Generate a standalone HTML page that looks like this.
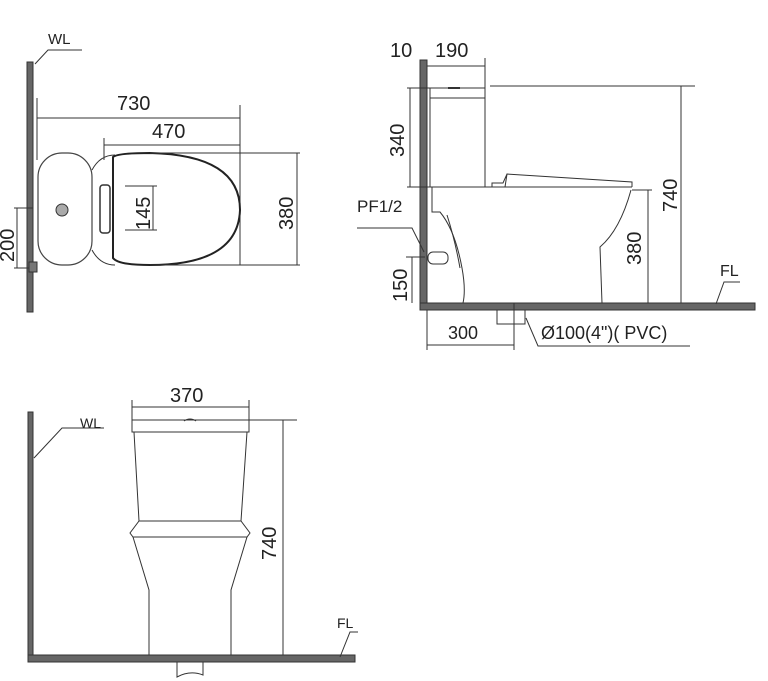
<!DOCTYPE html>
<html><head><meta charset="utf-8"><style>
html,body{margin:0;padding:0;background:#fff;}
svg{display:block;}
text{font-family:"Liberation Sans",sans-serif;fill:#222;}
</style></head><body>
<svg width="768" height="681" viewBox="0 0 768 681" xmlns="http://www.w3.org/2000/svg">
<g stroke="#333" stroke-width="1" fill="none">
<!-- TOP VIEW -->
<rect x="27" y="62" width="6" height="250" fill="#666"/>
<polyline points="35,64 48,50 82,50"/>
<line x1="37" y1="98" x2="37" y2="160"/>
<line x1="37" y1="118" x2="240" y2="118"/>
<line x1="240" y1="105" x2="240" y2="265"/>
<line x1="104" y1="138" x2="104" y2="160"/>
<line x1="104" y1="145" x2="240" y2="145"/>
<rect x="38" y="153" width="54" height="112" rx="24" stroke="#444" stroke-width="1.2"/>
<path d="M92,170 Q100,155 115,155 M92,250 Q100,265 115,265" />
<path d="M113,157 Q118,153 150,153 Q240,155 240,210 Q238,265 150,265 Q118,265 113,258 Z" stroke="#222" stroke-width="2"/>
<rect x="100" y="185" width="10" height="48" rx="3" stroke="#333" stroke-width="1.5"/>
<circle cx="62" cy="210" r="6" fill="#aaa"/>
<line x1="150" y1="153" x2="300" y2="153"/>
<line x1="150" y1="265" x2="300" y2="265"/>
<line x1="297" y1="153" x2="297" y2="265"/>
<line x1="125" y1="186" x2="157" y2="186"/>
<line x1="125" y1="230" x2="157" y2="230"/>
<line x1="153" y1="186" x2="153" y2="230"/>
<line x1="14" y1="208" x2="33" y2="208"/>
<line x1="14" y1="268" x2="33" y2="268"/>
<line x1="17" y1="208" x2="17" y2="268"/>
<rect x="29" y="262" width="8" height="10" fill="#777"/>

<!-- SIDE VIEW -->
<rect x="420" y="60" width="7" height="250" fill="#666"/>
<rect x="420" y="303" width="335" height="7" fill="#666"/>
<line x1="427" y1="66" x2="485" y2="66"/>
<line x1="485" y1="58" x2="485" y2="88"/>
<rect x="430" y="88" width="55" height="99"/>
<line x1="430" y1="98" x2="485" y2="98"/>
<line x1="448" y1="88" x2="460" y2="88" stroke-width="2"/>
<line x1="490" y1="86" x2="695" y2="86"/>
<line x1="407" y1="88" x2="430" y2="88"/>
<line x1="410" y1="88" x2="410" y2="187"/>
<line x1="407" y1="187" x2="632" y2="187"/>
<line x1="681" y1="86" x2="681" y2="303"/>
<path d="M492,187 L492,183 L503,183 L507,174 L632,182 L632,187 M507,174 L505,187"/>
<line x1="632" y1="190" x2="652" y2="190"/>
<line x1="648" y1="190" x2="648" y2="303"/>
<path d="M631,190 Q620,230 600,247 L602,303"/>
<path d="M432,187 L432,212 L440,212 Q455,230 462,268 Q466,290 463,303"/>
<path d="M447,215 Q455,240 460,268"/>
<rect x="428" y="252" width="20" height="12" rx="5"/>
<polyline points="357,228 412,228 424,252"/>
<line x1="406" y1="257" x2="425" y2="257"/>
<line x1="412" y1="257" x2="412" y2="303"/>
<line x1="427" y1="310" x2="427" y2="350"/>
<line x1="514" y1="303" x2="514" y2="350"/>
<line x1="427" y1="345" x2="514" y2="345"/>
<rect x="497" y="310" width="28" height="14"/>
<polyline points="526,318 538,346 690,346"/>
<polyline points="716,304 724,282 740,282"/>

<!-- FRONT VIEW -->
<rect x="28" y="412" width="5" height="250" fill="#666"/>
<rect x="28" y="655" width="327" height="7" fill="#666"/>
<polyline points="34,458 62,428 104,428"/>
<polyline points="340,657 350,632 358,632"/>
<line x1="132" y1="400" x2="132" y2="420"/>
<line x1="249" y1="400" x2="249" y2="420"/>
<line x1="132" y1="407" x2="249" y2="407"/>
<rect x="132" y="420" width="117" height="12"/>
<path d="M184,421 Q190,417 196,421"/>
<path d="M134,432 L139,521 M247,432 L241,521"/>
<path d="M139,521 L241,521 L250,533 L247,537 L133,537 L130,533 Z"/>
<path d="M133,537 L149,590 L149,655 M247,537 L231,590 L231,655"/>
<line x1="249" y1="420" x2="297" y2="420"/>
<line x1="283" y1="420" x2="283" y2="655"/>
<path d="M177,662 L177,677 Q190,670 203,675 L203,662"/>
</g>
<g font-size="20">
<text x="48" y="44" font-size="15">WL</text>
<text x="117" y="110">730</text>
<text x="152" y="138">470</text>
<text transform="translate(150,230) rotate(-90)">145</text>
<text transform="translate(293,230) rotate(-90)">380</text>
<text transform="translate(14,262) rotate(-90)">200</text>

<text x="390" y="57">10</text>
<text x="435" y="57">190</text>
<text transform="translate(404,157) rotate(-90)">340</text>
<text transform="translate(677,212) rotate(-90)">740</text>
<text transform="translate(641,265) rotate(-90)">380</text>
<text transform="translate(407,302) rotate(-90)">150</text>
<text x="357" y="212" font-size="17">PF1/2</text>
<text x="448" y="339" font-size="18">300</text>
<text x="541" y="339" font-size="18">Ø100(4")( PVC)</text>
<text x="720" y="276" font-size="16">FL</text>

<text x="170" y="402">370</text>
<text x="80" y="428" font-size="14">WL</text>
<text transform="translate(276,560) rotate(-90)">740</text>
<text x="337" y="628" font-size="14">FL</text>
</g>
</svg>
</body></html>
